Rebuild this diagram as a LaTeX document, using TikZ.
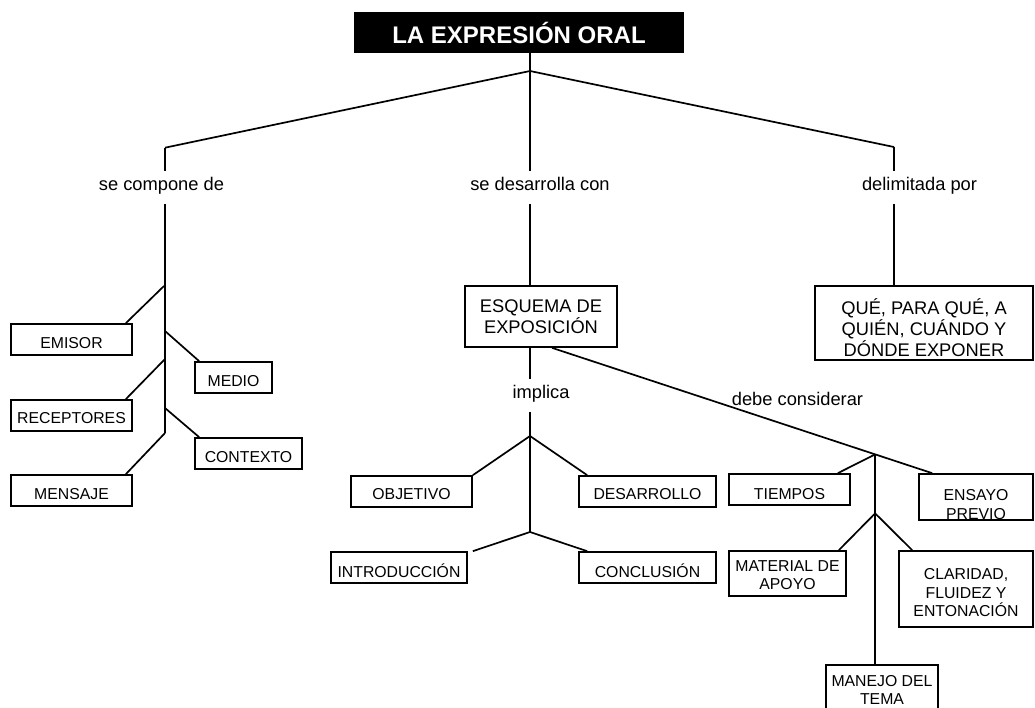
\documentclass[tikz,border=0pt]{standalone}
\usepackage{fontspec}
\setmainfont{Liberation Sans}
\usetikzlibrary{calc}

\begin{document}
\begin{tikzpicture}
        [x=1pt,y=-1pt,line width=1.7pt,
         box/.style 2 args={draw,inner sep=0pt,minimum width=#1,minimum height=#2},
         txt/.style={align=center,inner sep=0pt,yshift=-#1,font=\fontsize{15.8}{18.3}\selectfont},
         txt/.default=3.5pt,
         bigtxt/.style={txt=#1,font=\fontsize{18.3}{21}\selectfont},
         bigtxt/.default=0pt,
         phrase/.style={anchor=base,inner xsep=0pt,inner ysep=5pt,text height=13pt,text depth=8pt,
                        font=\fontsize{18.3}{21}\selectfont}]

        \useasboundingbox (0,0) rectangle (1035,707);

        \node[box={328pt}{39pt},fill=black,text=white,font=\fontsize{24}{28}\selectfont\bfseries]
                (title) at (519,32.5) {LA EXPRESIÓN ORAL};

        \node[phrase] (compone) at (161.5,190) {se compone de};
        \node[phrase] (desarrolla) at (540,190) {se desarrolla con};
        \node[phrase] (delimitada) at (919.5,190) {delimitada por};
        \node[phrase] (implica) at (541,398) {implica};
        \node[phrase] (considerar) at (797.5,405) {debe considerar};

        \node[box={121pt}{31pt},label={[txt]center:EMISOR}] (emisor) at (71.5,339.5) {};
        \node[box={121pt}{31pt},label={[txt=2.5pt]center:RECEPTORES}] (receptores) at (71.5,415.5) {};
        \node[box={121pt}{31pt},label={[txt]center:MENSAJE}] (mensaje) at (71.5,490.5) {};
        \node[box={77pt}{31pt},label={[txt]center:MEDIO}] (medio) at (233.5,377.5) {};
        \node[box={107pt}{31pt},label={[txt]center:CONTEXTO}] (contexto) at (248.5,453.5) {};

        \node[box={152pt}{61pt},label={[bigtxt]center:{ESQUEMA DE\\EXPOSICIÓN}}] (esquema) at (541,316.5) {};
        \node[box={121pt}{31pt},label={[txt=2.5pt]center:OBJETIVO}] (objetivo) at (411.5,491.5) {};
        \node[box={137pt}{31pt},label={[txt=2.5pt]center:DESARROLLO}] (desarrollo) at (647.5,491.5) {};
        \node[box={136pt}{31pt},label={[txt]center:INTRODUCCIÓN}] (intro) at (399,567.5) {};
        \node[box={137pt}{31pt},label={[txt]center:CONCLUSIÓN}] (conclusion) at (647.5,567.5) {};

        \node[box={218pt}{74pt},label={[bigtxt=4.6pt]center:{QUÉ, PARA QUÉ, A\\QUIÉN, CUÁNDO Y\\DÓNDE EXPONER}}]
                (que) at (924,323) {};

        \node[box={121pt}{31pt},label={[txt=5pt]center:TIEMPOS}] (tiempos) at (789.5,489.5) {};
        \node[box={114pt}{46pt},label={[txt=7.5pt]center:{ENSAYO\\PREVIO}}] (ensayo) at (976,497) {};
        \node[box={117pt}{45pt},label={[txt=1.5pt]center:{MATERIAL DE\\APOYO}}] (material) at (787.5,573.5) {};
        \node[box={134pt}{76pt},label={[txt=3.8pt]center:{CLARIDAD,\\FLUIDEZ Y\\ENTONACIÓN}}] (claridad) at (966,589) {};
        \node[box={112pt}{45pt},label={[txt=2.5pt]center:{MANEJO DEL\\TEMA}}] (manejo) at (882,687.5) {};

        \coordinate (top) at (530,71);
        \coordinate (lc) at (165,147.7);
        \coordinate (rc) at (894,147);
        \coordinate (l1) at (164,286);
        \coordinate (l2) at (165,331);
        \coordinate (l3) at (165,359);
        \coordinate (l4) at (165,408);
        \coordinate (lend) at (165,433);
        \coordinate (m1) at (530,436);
        \coordinate (m2) at (530,532);
        \coordinate (e1) at ([xshift=11pt]esquema.south);
        \coordinate (e2) at ([xshift=14pt]ensayo.north west);
        \coordinate (k1) at ($(e1)!0.85!(e2)$);
        \coordinate (k2) at ($(k1)+(0,59)$);

        \draw (top |- title.south) -- (top |- desarrolla.north);
        \draw (lc) -- (top) -- (rc);
        \draw (lc) -- (lc |- compone.north);
        \draw (rc) -- (rc |- delimitada.north);

        \draw (lc |- compone.south) -- (lend);
        \draw (l1) -- ([xshift=-7pt]emisor.north east);
        \draw (l2) -- ([xshift=5pt]medio.north west);
        \draw (l3) -- ([xshift=-7pt]receptores.north east);
        \draw (l4) -- ([xshift=5pt]contexto.north west);
        \draw (lend) -- ([xshift=-7pt]mensaje.north east);

        \draw (top |- desarrolla.south) -- (top |- esquema.north);
        \draw (top |- esquema.south) -- (top |- implica.north);
        \draw (top |- implica.south) -- (m2);
        \draw (m1) -- (objetivo.north east);
        \draw (m1) -- ([xshift=9pt]desarrollo.north west);
        \draw (m2) -- ([xshift=5pt]intro.north east);
        \draw (m2) -- ([xshift=9pt]conclusion.north west);

        \draw (e1) -- (e2);
        \draw (k1) -- ([xshift=-13pt]tiempos.north east);
        \draw (k1) -- (k1 |- manejo.north);
        \draw (k2) -- ([xshift=-8pt]material.north east);
        \draw (k2) -- ([xshift=14pt]claridad.north west);

        \draw (rc |- delimitada.south) -- (rc |- que.north);
      \end{tikzpicture}
\end{document}
